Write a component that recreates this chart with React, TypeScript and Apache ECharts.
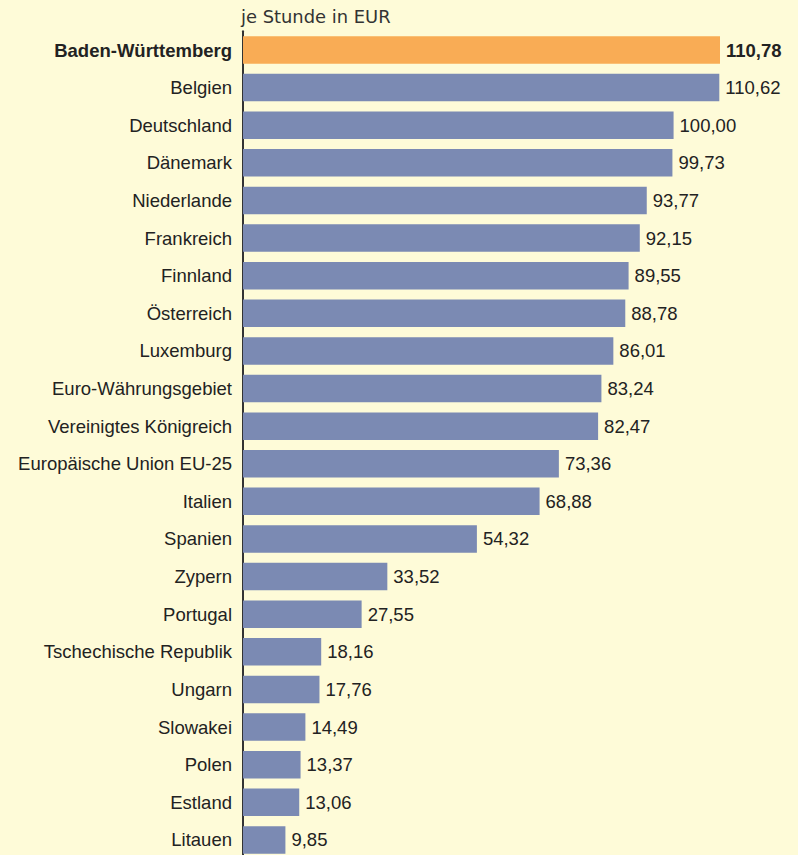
import React, { useEffect, useRef } from "react";
import * as echarts from "echarts";

const categories = [
  "Baden-Württemberg",
  "Belgien",
  "Deutschland",
  "Dänemark",
  "Niederlande",
  "Frankreich",
  "Finnland",
  "Österreich",
  "Luxemburg",
  "Euro-Währungsgebiet",
  "Vereinigtes Königreich",
  "Europäische Union EU-25",
  "Italien",
  "Spanien",
  "Zypern",
  "Portugal",
  "Tschechische Republik",
  "Ungarn",
  "Slowakei",
  "Polen",
  "Estland",
  "Litauen",
];

const values = [
  110.78, 110.62, 100.0, 99.73, 93.77, 92.15, 89.55, 88.78, 86.01, 83.24, 82.47,
  73.36, 68.88, 54.32, 33.52, 27.55, 18.16, 17.76, 14.49, 13.37, 13.06, 9.85,
];

const highlightCategory = "Baden-Württemberg";
const unitLabel = "je Stunde in EUR";

const BG = "#FEFBD8";
const BAR = "#7B8AB3";
const HIGHLIGHT = "#F9AC55";
const TEXT = "#222222";
const FONT = "Liberation Sans, Arial, sans-serif";
const FS = 18.5;

export default function App() {
  const ref = useRef<HTMLDivElement>(null);

  useEffect(() => {
    if (!ref.current) return;
    const chart = echarts.init(ref.current, undefined, { renderer: "svg" });
    const fmt = (v: number) => v.toFixed(2).replace(".", ",");
    chart.setOption({
      animation: false,
      backgroundColor: BG,
      title: {
        text: unitLabel,
        left: 236,
        top: 2,
        textStyle: {
          fontFamily: "DejaVu Sans",
          fontSize: 17.9,
          fontWeight: "normal",
          color: "#333333",
        },
      },
      grid: {
        left: 243,
        width: 516.7,
        top: 31.2,
        height: 827.5,
        containLabel: false,
        outerBoundsMode: "none",
      },
      xAxis: {
        type: "value",
        min: 0,
        max: 120,
        show: false,
      },
      yAxis: {
        type: "category",
        inverse: true,
        data: categories,
        axisLine: { show: true, lineStyle: { color: "#333333", width: 2 } },
        axisTick: { show: false },
        axisLabel: {
          margin: 11,
          fontFamily: FONT,
          fontSize: FS,
          color: TEXT,
          formatter: (v: string) => (v === highlightCategory ? `{b|${v}}` : v),
          rich: {
            b: {
              fontFamily: FONT,
              fontSize: FS,
              fontWeight: "bold",
              color: TEXT,
            },
          },
        },
      },
      series: [
        {
          type: "bar",
          barWidth: 27.5,
          data: values.map((v, i) => ({
            value: v,
            itemStyle: { color: categories[i] === highlightCategory ? HIGHLIGHT : BAR },
            label: {
              fontWeight: categories[i] === highlightCategory ? "bold" : "normal",
            },
          })),
          label: {
            show: true,
            position: "right",
            distance: 6,
            fontFamily: FONT,
            fontSize: FS,
            color: TEXT,
            formatter: (p: any) => fmt(p.value),
          },
        },
      ],
    });
    return () => chart.dispose();
  }, []);

  return (
    <div
      ref={ref}
      style={{ position: "absolute", left: 0, top: 0, width: 798, height: 855 }}
    />
  );
}
